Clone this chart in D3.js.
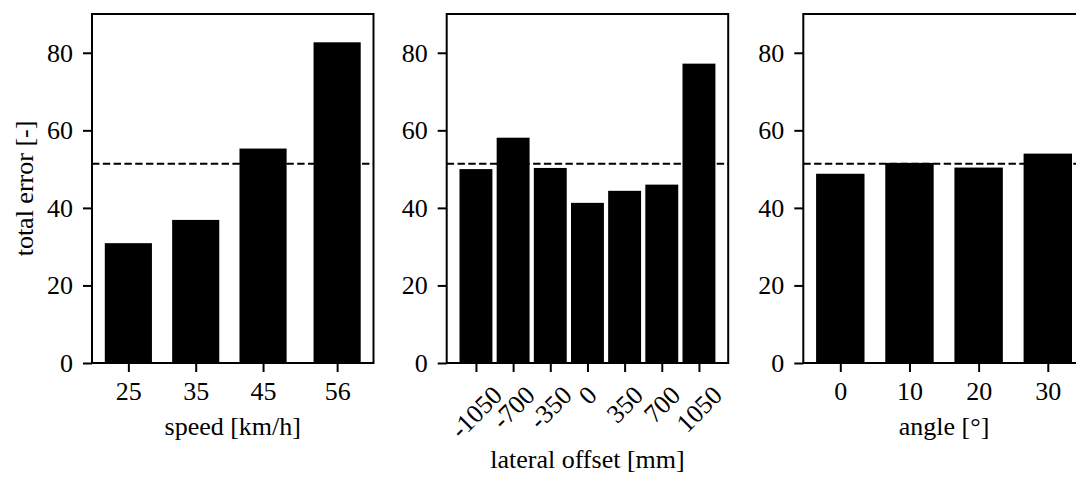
<!DOCTYPE html>
<html>
<head>
<meta charset="utf-8">
<script src="https://cdn.jsdelivr.net/npm/d3@7"></script>
<style>
    body { margin: 0; background: #fff; }
    svg { display: block; font-family: "Liberation Serif", "Times New Roman", serif; }
</style>
</head>
<body>
<svg id="drawing_region"></svg>
<script>
// values
const speedLabels = [25, 35, 45, 56];
const speedErrors = [30.9, 36.9, 55.3, 82.7];

const offsetLabels = [-1050, -700, -350, 0, 350, 700, 1050];
const offsetErrors = [50.0, 58.1, 50.3, 41.3, 44.4, 46.0, 77.2];

const angleLabels = [0, 10, 20, 30];
const angleErrors = [48.8, 51.6, 50.4, 54.0];

const meanError = 51.4;
const yTicks = [0, 20, 40, 60, 80];

class BarPanel {

    constructor( config, labels, values ) {
        this.config = config;
        this.labels = labels;
        this.values = values;
        this.init();
    }

    init() {
        let self = this;
        let c = self.config;

        self.g = d3.select('#drawing_region').append('g')
            .attr('transform', `translate(${c.left}, ${c.top})`);

        // matplotlib style: bar extent plus 5% margins
        let lo = d3.min(self.labels) - c.barWidth/2;
        let hi = d3.max(self.labels) + c.barWidth/2;
        let pad = (hi - lo) * 0.05;

        self.x = d3.scaleLinear()
            .domain([lo - pad, hi + pad])
            .range([0, c.width]);

        self.y = d3.scaleLinear()
            .domain([0, 90])
            .range([c.height, 0]);
    }

    styleAxis( axis ) {
        axis.attr('font-family', null).attr('font-size', null);
        axis.select('.domain').remove();
        axis.selectAll('line').attr('stroke-width', 2);
        axis.selectAll('text').style('font-size', '26px').attr('fill', '#000');
    }

    render() {
        let self = this;
        let c = self.config;
        let data = self.labels.map((d, i) => ({ label: d, value: self.values[i] }));

        self.g.selectAll('rect.bar')
            .data(data)
            .enter()
            .append('rect')
            .attr('class', 'bar')
            .attr('x', d => self.x(d.label - c.barWidth/2))
            .attr('width', d => self.x(d.label + c.barWidth/2) - self.x(d.label - c.barWidth/2))
            .attr('y', d => self.y(d.value))
            .attr('height', d => self.y(0) - self.y(d.value))
            .style('fill', '#000');

        self.g.append('line')
            .attr('x1', 0)
            .attr('x2', c.width)
            .attr('y1', self.y(meanError))
            .attr('y2', self.y(meanError))
            .attr('stroke', '#000')
            .attr('stroke-width', 2)
            .attr('stroke-dasharray', '7.4,3.4');

        // frame
        self.g.append('rect')
            .attr('width', c.width)
            .attr('height', c.height)
            .attr('fill', 'none')
            .attr('stroke', '#000')
            .attr('stroke-width', 2);

        let yAxis = self.g.append('g')
            .call(d3.axisLeft(self.y).tickValues(yTicks).tickSize(9).tickPadding(10).tickSizeOuter(0));
        self.styleAxis(yAxis);

        let xAxis = self.g.append('g')
            .attr('transform', `translate(0, ${c.height})`)
            .call(d3.axisBottom(self.x).tickValues(self.labels).tickFormat(d => String(d))
                .tickSize(9).tickPadding(9.5).tickSizeOuter(0));
        self.styleAxis(xAxis);

        if (c.rotate) {
            xAxis.selectAll('text').each(function(d) {
                let t = d3.select(this);
                let w = this.getComputedTextLength();
                let ext = (w + 17) / Math.SQRT2;
                t.attr('y', null).attr('dy', '0.32em')
                    .attr('transform', `translate(0, ${22 + ext/2}) rotate(-45)`);
            });
        }

        self.g.append('text')
            .attr('x', c.width/2)
            .attr('y', c.height + c.xLabelY)
            .attr('text-anchor', 'middle')
            .style('font-size', '26px')
            .text(c.xLabel);

        if (c.yLabel) {
            self.g.append('text')
                .attr('transform', `translate(${-c.left + 32.5}, ${c.height/2}) rotate(-90)`)
                .attr('text-anchor', 'middle')
                .style('font-size', '26px')
                .text(c.yLabel);
        }
    }
}

d3.select('#drawing_region')
    .attr('width', 1076)
    .attr('height', 481);

let common = { top: 14, width: 281.5, height: 349 };

new BarPanel(Object.assign({}, common, {
    left: 92, barWidth: 7, xLabel: 'speed [km/h]', xLabelY: 72, yLabel: 'total error [-]'
}), speedLabels, speedErrors).render();

new BarPanel(Object.assign({}, common, {
    left: 446.7, barWidth: 310, xLabel: 'lateral offset [mm]', xLabelY: 105, rotate: true
}), offsetLabels, offsetErrors).render();

new BarPanel(Object.assign({}, common, {
    left: 803.3, barWidth: 7, xLabel: 'angle [°]', xLabelY: 72
}), angleLabels, angleErrors).render();
</script>
</body>
</html>
